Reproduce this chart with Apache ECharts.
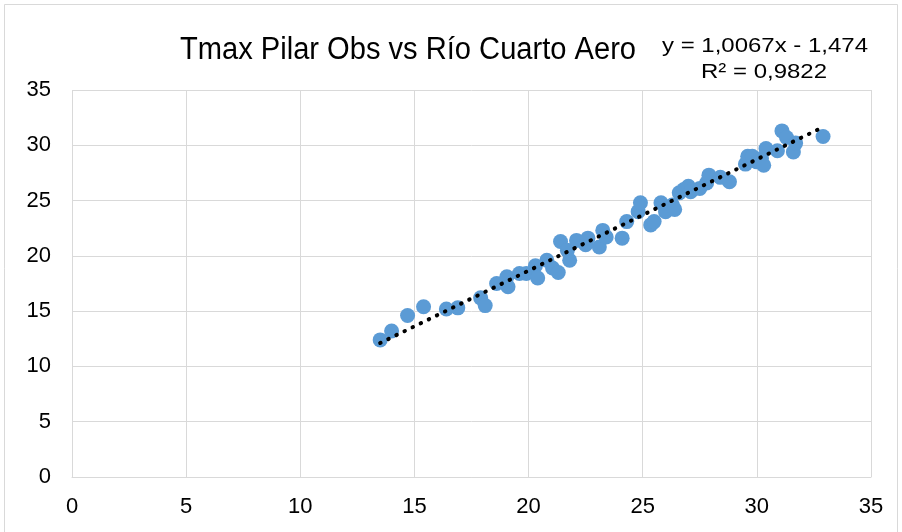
<!DOCTYPE html>
<html><head><meta charset="utf-8">
<script src="https://cdn.jsdelivr.net/npm/echarts@6/dist/echarts.min.js"></script>
<style>html,body{margin:0;padding:0;background:#fff}#c{width:902px;height:532px}</style>
</head><body><div id="c"></div>
<script>
const titleText = "Tmax Pilar Obs vs Río Cuarto Aero";
const equationText = "y = 1,0067x - 1,474";
const r2Text = "R² = 0,9822";
const trendSlope = 1.0067;
const trendIntercept = -1.474;
const xTicks = [0, 5, 10, 15, 20, 25, 30, 35];
const yTicks = [0, 5, 10, 15, 20, 25, 30, 35];
const xValues = [13.5,14.0,14.7,15.4,16.4,16.9,17.9,18.1,18.6,19.05,19.1,19.6,19.9,20.3,20.4,20.8,21.05,21.3,21.4,21.7,21.8,22.1,22.5,22.6,23.1,23.25,23.4,24.1,24.3,24.8,24.9,25.35,25.5,25.8,26.0,26.3,26.4,26.6,26.8,27.0,27.1,27.5,27.8,27.9,28.4,28.8,29.5,29.6,29.8,30.0,30.2,30.3,30.4,30.9,31.1,31.3,31.6,31.7,32.9];
const yValues = [12.4,13.2,14.6,15.4,15.2,15.3,16.2,15.5,17.5,18.1,17.2,18.4,18.4,19.1,18.0,19.6,18.9,18.5,21.3,20.5,19.6,21.4,21.0,21.6,20.8,22.3,21.7,21.6,23.1,24.0,24.8,22.8,23.1,24.8,24.0,24.6,24.2,25.7,26.0,26.3,25.8,26.1,26.6,27.3,27.1,26.7,28.3,29.0,29.0,28.5,28.8,28.2,29.7,29.5,31.3,30.7,29.4,30.2,30.8];

const points = xValues.map((x, i) => [x, yValues[i]]);
const xMinData = Math.min(...xValues), xMaxData = Math.max(...xValues);
const trend = [xMinData, xMaxData].map(x => [x, trendSlope * x + trendIntercept]);

const font = "'Liberation Sans', Arial, sans-serif";
const mctx = document.createElement('canvas').getContext('2d');
function textWidth(t, size) { mctx.font = size + 'px ' + font; return mctx.measureText(t).width; }
const titleSize = 31, eqSize = 21;
const titleScaleX = 456 / textWidth(titleText, titleSize);
const eqScaleX = 206 / textWidth(equationText, eqSize);

const chart = echarts.init(document.getElementById('c'), null, {renderer: 'canvas'});
chart.setOption({
  animation: false,
  backgroundColor: '#fff',
  graphic: [{
    type: 'rect', shape: {x: 4.5, y: 4.5, width: 893, height: 540},
    style: {fill: 'none', stroke: '#d9d9d9', lineWidth: 1}, silent: true
  }, {
    type: 'text', x: 180, y: 50, scaleX: titleScaleX,
    style: {text: titleText, x: 0, y: 0, fontSize: titleSize, fontFamily: font, fill: '#000', align: 'left', verticalAlign: 'middle'}
  }, {
    type: 'text', x: 765, y: 46, scaleX: eqScaleX,
    style: {text: equationText, x: 0, y: 0, fontSize: eqSize, fontFamily: font, fill: '#000', align: 'center', verticalAlign: 'middle'}
  }, {
    type: 'text', x: 764, y: 72, scaleX: eqScaleX,
    style: {text: r2Text, x: 0, y: 0, fontSize: eqSize, fontFamily: font, fill: '#000', align: 'center', verticalAlign: 'middle'}
  }],
  grid: {left: 72, right: 31, top: 90, bottom: 55, containLabel: false},
  xAxis: {
    type: 'value', min: 0, max: 35, interval: 5,
    axisLine: {show: true, lineStyle: {color: '#d9d9d9', width: 1}},
    axisTick: {show: false},
    splitLine: {show: true, lineStyle: {color: '#d9d9d9', width: 1}},
    axisLabel: {fontSize: 22, fontFamily: font, color: '#000', margin: 19,
      formatter: v => xTicks.includes(v) ? String(v) : ''}
  },
  yAxis: {
    type: 'value', min: 0, max: 35, interval: 5,
    axisLine: {show: false},
    axisTick: {show: false},
    splitLine: {show: true, lineStyle: {color: '#d9d9d9', width: 1}},
    axisLabel: {fontSize: 22, fontFamily: font, color: '#000', margin: 21,
      formatter: v => yTicks.includes(v) ? String(v) : ''}
  },
  series: [{
    type: 'scatter', data: points, symbolSize: 15,
    itemStyle: {color: '#5b9bd5', opacity: 1}
  }, {
    type: 'line', data: trend, symbol: 'none', z: 5,
    lineStyle: {color: '#000', width: 4, type: [0.5, 8.5], cap: 'round'}
  }]
});
</script></body></html>
